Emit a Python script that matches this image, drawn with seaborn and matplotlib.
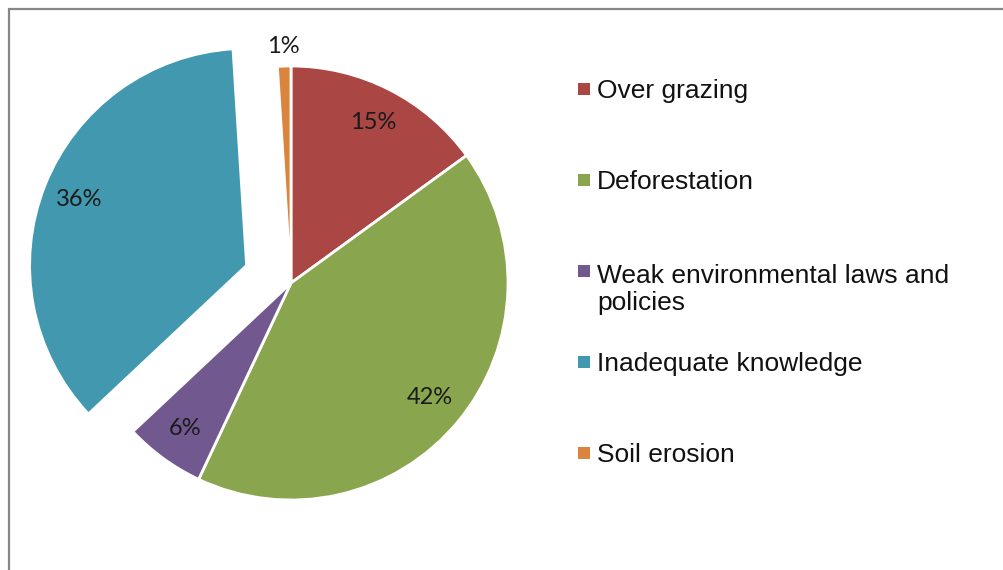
import numpy as np
import matplotlib
matplotlib.use('Agg')
from matplotlib import pyplot as plt
from matplotlib import patches
import seaborn as sns

# data
categories = ['Over grazing', 'Deforestation', 'Weak environmental laws and\npolicies',
              'Inadequate knowledge', 'Soil erosion']
values = [15, 42, 6, 36, 1]
hex_colors = ['#AA4643', '#89A54E', '#71588F', '#4198AF', '#DB843D']
explode = [0, 0, 0, 0.22, 0]

sns.set_theme(style='white')
palette = sns.color_palette(hex_colors)

W, H = 1004, 570
fig = plt.figure(figsize=(W / 100, H / 100), dpi=100)
fig.patch.set_facecolor('white')

# pie centre and radius in pixels
cx, cy, r = 291, 283, 217
ax = fig.add_axes([0, 0, 1, 1])

wedges, texts, autotexts = ax.pie(values, colors=palette, startangle=90, counterclock=False,
                                  explode=explode, autopct='%1.0f%%', pctdistance=0.83,
                                  wedgeprops=dict(edgecolor='white', linewidth=2))
ax.set_xlim(-cx / r, (W - cx) / r)
ax.set_ylim(-(H - cy) / r, cy / r)
ax.set_aspect('equal')
ax.axis('off')

for t in autotexts:
    t.set_fontfamily('Lato')
    t.set_fontsize(17)
    t.set_color('#1a1a1a')

# small slice label sits outside the pie
w = wedges[-1]
mid = np.deg2rad((w.theta1 + w.theta2) / 2)
autotexts[-1].set_position((1.09 * np.cos(mid), 1.09 * np.sin(mid)))

# legend drawn by hand so the two-line entry keeps the even spacing
line_h = 30
for i, (lab, col) in enumerate(zip(categories, palette)):
    base = 98 + i * 90.9
    fig.add_artist(patches.Rectangle((578 / W, 1 - (base - 3) / H), 12 / W, 12 / H,
                                     transform=fig.transFigure, color=col, lw=0))
    # baseline alignment uses the last line of a multi-line text
    last = base + line_h * lab.count('\n')
    fig.text(597 / W, 1 - last / H, lab, fontsize=19, family='Liberation Sans',
             va='baseline', ha='left', color='#111111', linespacing=1.13)

# chart border
fig.add_artist(patches.Rectangle((9 / W, -0.1), 1.2, 1 - 9 / H + 0.1, transform=fig.transFigure,
                                 fill=False, edgecolor='#878787', lw=1.6))

fig.savefig('out.png', dpi=100)
